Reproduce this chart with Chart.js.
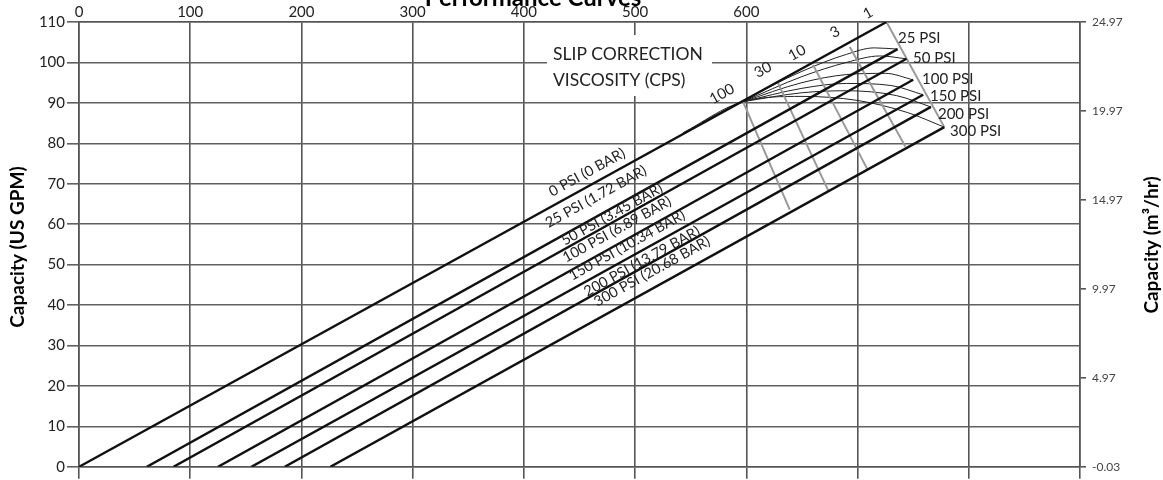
<!DOCTYPE html>
<html>
<head>
<meta charset="utf-8">
<script src="https://cdn.jsdelivr.net/npm/chart.js@4.4.0/dist/chart.umd.min.js"></script>
<style>
  html, body { margin: 0; padding: 0; background: #fff; }
  #wrap { width: 1163px; height: 480px; }
</style>
</head>
<body>
<div id="wrap"><canvas id="perfChart"></canvas></div>
<script>
// PERFORMANCE CURVES

const rpmTicks = [0, 100, 200, 300, 400, 500, 600, 700, 800, 900];
const rpmLabelled = [0, 100, 200, 300, 400, 500, 600];
const gpmTicks = [0, 10, 20, 30, 40, 50, 60, 70, 80, 90, 100, 110];
const m3Ticks = [-0.03, 4.97, 9.97, 14.97, 19.97, 24.97];

// pressure lines (capacity vs speed)
const pressureNames = [
  "0 PSI (0 BAR)",
  "25 PSI (1.72 BAR)",
  "50 PSI (3.45 BAR)",
  "100 PSI (6.89 BAR)",
  "150 PSI (10.34 BAR)",
  "200 PSI (13.79 BAR)",
  "300 PSI (20.68 BAR)",
];
const pressureShort = ["25 PSI", "50 PSI", "100 PSI", "150 PSI", "200 PSI", "300 PSI"];
const zeroFlowRpm = [0, 61, 85, 125, 155, 185, 226];
const maxRpm = [726, 736, 744, 750, 759, 766, 778];
const maxGpm = [110, 103.3, 100.9, 95.7, 92, 89, 84];

// slip correction viscosity lines
const viscNames = ["100", "30", "10", "3", "1"];
const viscTopRpm = [597, 628, 660, 693, 726];
const viscTopGpm = [90.3, 95.2, 99.4, 103.8, 110];
const viscBotRpm = [639, 674, 709, 743, 778];
const viscBotGpm = [63.6, 68.1, 73.5, 79.2, 84];

// thin slip curves, one per pressure
const slip25 = [[560, 85.2], [597, 90.6], [650, 97.8], [690, 102], [715, 103.6], [736, 103.3]];
const slip50 = [[597, 90.3], [650, 96.5], [690, 100], [720, 101.6], [744, 100.9]];
const slip100 = [[597, 90.3], [650, 95], [690, 97], [725, 97.3], [750, 95.7]];
const slip150 = [[597, 90.3], [650, 93.6], [690, 94.8], [730, 94.3], [759, 92]];
const slip200 = [[597, 90.3], [650, 92.5], [690, 93], [735, 91.8], [766, 89]];
const slip300 = [[543, 82.6], [597, 90.3], [650, 91.6], [700, 90.6], [745, 87.6], [778, 84]];

const GRID = "#555";

const datasets = [];
for (let i = 0; i < pressureNames.length; i++) {
  datasets.push({
    label: pressureNames[i],
    data: [{ x: zeroFlowRpm[i], y: 0 }, { x: maxRpm[i], y: maxGpm[i] }],
    borderColor: "#111",
    borderWidth: 2.4,
  });
}
for (let i = 0; i < viscNames.length; i++) {
  datasets.push({
    label: viscNames[i] + " cps",
    data: [{ x: viscTopRpm[i], y: viscTopGpm[i] }, { x: viscBotRpm[i], y: viscBotGpm[i] }],
    borderColor: "#999",
    borderWidth: 2,
  });
}
[slip25, slip50, slip100, slip150, slip200, slip300].forEach((c, i) => {
  datasets.push({
    label: "slip " + pressureShort[i],
    data: c.map((p) => ({ x: p[0], y: p[1] })),
    borderColor: "#222",
    borderWidth: 1,
    cubicInterpolationMode: "monotone",
  });
});

// text on the plot
const pressureLabelPos = [
  [456.8, 72.8], [464.8, 66.8], [479.2, 62.4], [483.7, 58.7], [492.7, 54.8], [506.2, 50.8], [515.2, 48.3],
];
const shortLabelPos = [
  [736.3, 106.1], [749.9, 101.1], [758, 95.9], [765.2, 91.7], [772.3, 87.3], [783.1, 82.9],
];
const viscLabelPos = [[578.1, 92.2], [615, 98.2], [645.6, 102.4], [679.7, 107.5], [709.4, 112.2]];

const textPlugin = {
  id: "chartText",
  beforeDatasetsDraw(chart) {
    const ctx = chart.ctx;
    ctx.save();
    ctx.fillStyle = "#fff";
    ctx.fillRect(547, 35, 165, 61);
    ctx.restore();
  },
  afterDraw(chart) {
    const ctx = chart.ctx;
    const xs = chart.scales.x;
    const ys = chart.scales.y;
    const a = Math.atan2(
      ys.getPixelForValue(maxGpm[0]) - ys.getPixelForValue(0),
      xs.getPixelForValue(maxRpm[0]) - xs.getPixelForValue(zeroFlowRpm[0])
    );
    ctx.save();
    ctx.fillStyle = "#222";
    ctx.textBaseline = "middle";

    const rotText = (txt, pos, font) => {
      ctx.save();
      ctx.translate(xs.getPixelForValue(pos[0]), ys.getPixelForValue(pos[1]));
      ctx.rotate(a);
      ctx.font = font;
      ctx.textAlign = "center";
      ctx.fillText(txt, 0, 0);
      ctx.restore();
    };
    pressureNames.forEach((n, i) => rotText(n, pressureLabelPos[i], "14.5px Lato"));
    viscNames.forEach((n, i) => rotText(n, viscLabelPos[i], "15px Lato"));

    ctx.font = "15px Lato";
    ctx.textAlign = "left";
    pressureShort.forEach((n, i) => {
      ctx.fillText(n, xs.getPixelForValue(shortLabelPos[i][0]), ys.getPixelForValue(shortLabelPos[i][1]));
    });

    ctx.font = "17.5px Lato";
    ctx.fillText("SLIP CORRECTION", 553, 54);
    ctx.fillText("VISCOSITY (CPS)", 553, 80);

    ctx.fillStyle = "#000";
    ctx.font = "bold 24px Lato";
    ctx.textAlign = "center";
    ctx.textBaseline = "alphabetic";
    ctx.fillText("Performance Curves", 533, 6);

    ctx.textBaseline = "middle";
    ctx.font = "bold 19px Lato";
    ctx.save();
    ctx.translate(18, 247);
    ctx.rotate(-Math.PI / 2);
    ctx.fillText("Capacity (US GPM)", 0, 0);
    ctx.restore();
    ctx.save();
    ctx.translate(1152, 245);
    ctx.rotate(-Math.PI / 2);
    ctx.fillText("Capacity (m\u00b3/hr)", 0, 0);
    ctx.restore();
    ctx.restore();
  },
};

Chart.defaults.font.family = "Lato";
Chart.defaults.color = "#222";

new Chart(document.getElementById("perfChart"), {
  type: "scatter",
  data: { datasets: datasets },
  options: {
    responsive: true,
    maintainAspectRatio: false,
    animation: false,
    showLine: true,
    elements: { point: { radius: 0, hoverRadius: 0 }, line: { tension: 0 } },
    layout: { padding: 0 },
    plugins: { legend: { display: false }, tooltip: { enabled: false } },
    scales: {
      x: {
        type: "linear",
        position: "top",
        min: 0,
        max: 900,
        afterBuildTicks: (s) => { s.ticks = rpmTicks.map((v) => ({ value: v })); },
        afterFit: (s) => { s.height = 22; },
        ticks: {
          font: { size: 15 },
          padding: 1,
          maxRotation: 0,
          callback: (v) => (rpmLabelled.includes(v) ? String(v) : ""),
        },
        grid: { color: GRID, lineWidth: 1.6, drawTicks: false },
        border: { color: GRID, width: 1.6 },
      },
      x2: {
        type: "linear",
        position: "bottom",
        min: 0,
        max: 900,
        afterBuildTicks: (s) => { s.ticks = rpmTicks.map((v) => ({ value: v })); },
        afterFit: (s) => { s.height = 12; },
        ticks: { display: false },
        grid: { color: GRID, lineWidth: 1.6, drawOnChartArea: false, tickLength: 12 },
        border: { color: GRID, width: 1.6 },
      },
      y: {
        type: "linear",
        position: "left",
        min: 0,
        max: 110,
        afterBuildTicks: (s) => { s.ticks = gpmTicks.map((v) => ({ value: v })); },
        afterFit: (s) => { s.width = 79; },
        ticks: { font: { size: 15 }, padding: 2 },
        grid: { color: "#606060", lineWidth: 1.6, tickLength: 12 },
        border: { color: GRID, width: 1.6 },
      },
      y2: {
        type: "linear",
        position: "right",
        min: -0.03,
        max: 24.97,
        afterBuildTicks: (s) => { s.ticks = m3Ticks.map((v) => ({ value: v })); },
        afterFit: (s) => { s.width = 83; },
        ticks: { font: { size: 12 }, color: "#444", padding: 6, callback: (v) => v.toFixed(2) },
        grid: { color: GRID, lineWidth: 1.6, drawOnChartArea: false, tickLength: 6 },
        border: { color: GRID, width: 1.6 },
      },
    },
  },
  plugins: [textPlugin],
});
</script>
</body>
</html>
